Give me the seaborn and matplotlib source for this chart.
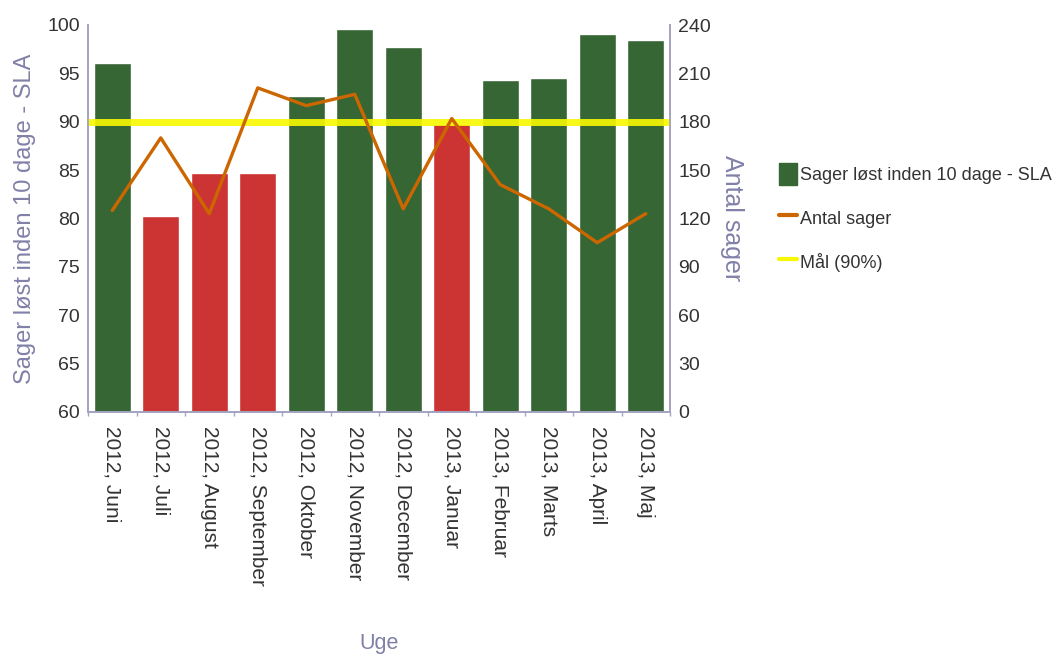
import matplotlib
matplotlib.use("Agg")
import matplotlib.pyplot as plt
import seaborn as sns
import numpy as np
from matplotlib.patches import Patch
from matplotlib.lines import Line2D

# Monthly categories
months = ["2012, Juni", "2012, Juli", "2012, August", "2012, September",
          "2012, Oktober", "2012, November", "2012, December", "2013, Januar",
          "2013, Februar", "2013, Marts", "2013, April", "2013, Maj"]
# Share of cases solved within 10 days (%)
sla_pct = [96.1, 80.3, 84.7, 84.7, 92.7, 99.6, 97.7, 89.8, 94.3, 94.5, 99.1, 98.4]
# Number of cases
antal = [125, 170, 123, 201, 190, 197, 126, 182, 141, 126, 105, 123]
# Target
target = 90

left_ticks = [60, 65, 70, 75, 80, 85, 90, 95, 100]
right_ticks = [0, 30, 60, 90, 120, 150, 180, 210, 240]

GREEN = "#356634"
RED = "#CC3333"
ORANGE = "#CC6600"
YELLOW = "#F8F800"
AXIS = "#A3A3C2"
LABEL = "#8080A8"
TEXT = "#333333"

sns.set_theme(style="white")
plt.rcParams["font.family"] = ["Liberation Sans", "DejaVu Sans"]

fig = plt.figure(figsize=(10.59, 6.57), dpi=100)
ax = fig.add_axes([88 / 1059, 1 - 412 / 657, (670 - 88) / 1059, (412 - 25) / 657])

colors = [GREEN if v >= target else RED for v in sla_pct]
sns.barplot(x=months, y=sla_pct, hue=months, palette=colors, legend=False,
            width=0.77, ax=ax, saturation=1, zorder=2)
ax.set_ylim(60, 100)
ax.set_xlim(-0.5, len(months) - 0.5)
ax.set_yticks(left_ticks)
ax.tick_params(axis="y", length=0, labelsize=14, labelcolor=TEXT, pad=6)
ax.tick_params(axis="x", length=0, labelsize=15, labelcolor=TEXT, pad=10)
ax.set_xticks(range(len(months)))
ax.set_xticklabels(months, rotation=-90, va="top", ha="center")
ax.set_xticks(np.arange(-0.5, len(months), 1.0), minor=True)
ax.tick_params(axis="x", which="minor", length=3, color=AXIS, bottom=True)

ax.set_ylabel("Sager løst inden 10 dage - SLA", fontsize=17, color=LABEL, labelpad=8)
ax.set_xlabel("")
fig.text(379 / 1059, 1 - 644 / 657, "Uge", fontsize=15.5, color=LABEL,
         ha="center", va="center")

for side in ["left", "right", "bottom"]:
    ax.spines[side].set_color(AXIS)
    ax.spines[side].set_linewidth(1.2)
ax.spines["top"].set_visible(False)

# Target line
ax.axhline(target, color=YELLOW, lw=5, alpha=0.9, zorder=5)

# Case counts on secondary axis
ax2 = ax.twinx()
sns.lineplot(x=np.arange(len(months)), y=antal, color=ORANGE, lw=2.4, ax=ax2, zorder=4)
ax2.set_ylim(0, 240)
ax2.set_yticks(right_ticks)
ax2.tick_params(axis="y", length=0, labelsize=14, labelcolor=TEXT, pad=6)
ax2.set_ylabel("Antal sager", fontsize=18, color=LABEL, rotation=270, labelpad=24)
for side in ["left", "right", "bottom"]:
    ax2.spines[side].set_color(AXIS)
    ax2.spines[side].set_linewidth(1.2)
ax2.spines["top"].set_visible(False)
ax2.set_xlim(-0.5, len(months) - 0.5)

handles = [
    Patch(facecolor=GREEN, edgecolor=GREEN),
    Line2D([0], [0], color=ORANGE, lw=3),
    Line2D([0], [0], color=YELLOW, lw=3),
]
labels = ["Sager løst inden 10 dage - SLA", "Antal sager", "Mål (90%)"]
fig.legend(handles, labels, loc="upper left", bbox_to_anchor=(772 / 1059, 1 - 156 / 657),
           frameon=False, fontsize=13, labelcolor=TEXT, handlelength=1.0,
           handleheight=1.5, handletextpad=0.15, labelspacing=1.2, borderaxespad=0)

fig.savefig("out.png", dpi=100)
